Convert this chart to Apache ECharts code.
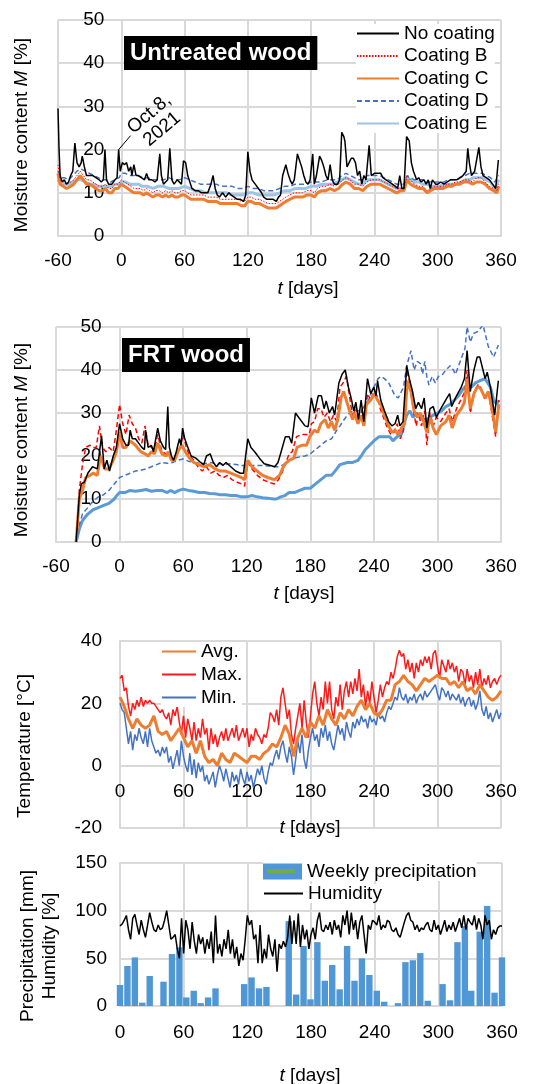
<!DOCTYPE html>
<html><head><meta charset="utf-8">
<script src="https://cdn.jsdelivr.net/npm/echarts@6/dist/echarts.min.js"></script>
<style>html,body{margin:0;padding:0;background:#fff}#c{width:550px;height:1084px}</style>
</head><body><div id="c"></div>
<script>
// ---------- DATA ----------
// Panel 1: untreated wood, moisture content [%] : [day, value]
const p1NoCoat = [[-60,29.5],[-59,20],[-58,14],[-56,12.5],[-54,13],[-52,12],[-50,12.5],[-48,14],[-46,15],[-44,21.5],[-42,17],[-40,16],[-38,17],[-37,18.5],[-35,16],[-33,14],[-30,14],[-27,14],[-24,13.5],[-21,13],[-19,12.5],[-17,13],[-15.5,20],[-14,13],[-12,12],[-9,12],[-6,13],[-4,13.5],[-2.5,20],[-1,15],[1,17],[3,16.5],[5,17],[7,15],[9,16],[10,14],[12,16.5],[14,14],[16,14],[19,13.5],[22,13],[24,14.5],[26,13],[29,13],[32,12.5],[34,13],[36.5,19],[38,14],[40,12],[42,12.5],[44,13],[46,20.3],[48,13],[50,12],[53,13],[55,12.5],[57,12],[59,17.4],[61,17],[63,14],[65,12.5],[67,11],[70,10.5],[73,10.5],[76,10],[79,10],[82,10],[85,12],[87,14],[89,11],[91,9.5],[93,9],[96,10],[99,9],[102,10],[104,9.5],[107,9],[110,8.5],[113,8.5],[116,8],[118,9.5],[120,19.5],[122,15],[124,13],[127,12],[130,11],[133,10],[135,9],[138,8.5],[141,8.5],[144,8.5],[147,8],[149,9],[151,9.5],[153,14],[156,16.5],[158,14.5],[160,13],[162,12],[164,13],[167,19],[169,17.5],[171,16],[173,14],[175,12.5],[177,12],[179,13],[181.5,19],[183,12],[185,14],[188,18.5],[190,17.5],[192,16],[194,14],[196,13],[198,16.5],[200,13],[202,12],[205,12],[207,13],[209,24],[211,23],[212,22],[214,16],[216,17],[218,18],[220,18],[222,17],[224,14],[226,15],[228,12],[230,14],[232,13],[235,21],[237,14],[240,14.5],[243,14.5],[246,14.5],[248,13.5],[251,13],[254,12.5],[257,12],[260,11.5],[262,11],[264,14],[266,11],[268,11],[270.5,23],[273,22],[275,17],[277,15],[280,13],[282,13.5],[284,12.5],[287,13],[289,12],[291,13],[293,11],[295,13],[298,12],[300,12],[303,12.5],[306,12],[309,12.5],[312,13],[315,13],[318,13],[321,13.5],[324,14],[327,15],[328.5,20.3],[330,17],[332,14],[335,15],[339,20.5],[341,16],[343,14],[346,13.5],[349,13],[352,12],[355,11],[357.5,17.6]];
const p1CoatB = [[-60,16.5],[-58,13],[-55,12.5],[-52,12],[-48,12.5],[-45,13],[-42,14],[-39,15],[-36,14],[-33,13],[-30,13],[-27,12.5],[-24,12],[-21,11.5],[-18,11.5],[-15,12],[-12,11],[-9,11],[-6,12],[-3,12],[0,13],[3,12.5],[6,12],[9,11.5],[12,11],[15,11],[18,11],[21,10.5],[24,11],[27,10.5],[30,10],[33,10.5],[36,10.5],[39,10],[42,10.5],[45,10],[48,10.5],[51,10],[54,10],[57,10.5],[60,10.5],[63,10],[66,9.5],[70,9.5],[74,9.5],[78,9.5],[82,9],[86,9],[90,9],[94,8.5],[98,8.5],[102,8.5],[106,8.5],[110,8.5],[114,8],[117,8],[120,9],[123,9],[127,8.5],[131,8.5],[135,8],[139,7.5],[143,7.5],[147,7.5],[150,8],[153,8.5],[156,9],[160,9.5],[164,10],[168,10],[172,10],[176,10.5],[180,10.5],[183,10],[186,11],[190,11.5],[194,11.5],[198,12],[202,11.5],[206,12],[210,13],[213,13.5],[217,13],[221,12],[225,12],[229,11.5],[233,12.5],[237,13],[241,13],[245,13],[249,12.5],[253,12],[257,11.5],[261,11],[265,11],[268,11],[271,14],[274,13],[278,12],[282,11.5],[286,11.5],[290,10.5],[293,11],[297,11.5],[301,11.5],[305,11.5],[309,12],[313,12],[317,12.5],[321,12.5],[325,13],[329,13],[333,12.5],[337,13.5],[341,13.5],[345,12.5],[349,11.5],[353,11],[356,10.5],[358,12]];
const p1CoatC = [[-60,14.5],[-58,12],[-55,11.5],[-52,11],[-48,11.5],[-45,12],[-42,13],[-39,14],[-36,13],[-33,12],[-30,12],[-27,11.5],[-24,11],[-21,10.5],[-18,10.5],[-15,11],[-12,10],[-9,10],[-6,11],[-3,11],[0,12],[3,11.5],[6,11],[9,10.5],[12,10],[15,10],[18,10],[21,9.5],[24,10],[27,9.5],[30,9],[33,9.5],[36,9.5],[39,9],[42,9.5],[45,9],[48,9.5],[51,9],[54,9],[57,9.5],[60,9.5],[63,9],[66,8.5],[70,8.5],[74,8.5],[78,8.5],[82,8],[86,8],[90,8],[94,7.5],[98,7.5],[102,7.5],[106,7.5],[110,7.5],[114,7],[117,7],[120,8],[123,8],[127,7.5],[131,7.5],[135,7],[139,6.5],[143,6.5],[147,6.5],[150,7],[153,7.5],[156,8],[160,8.5],[164,9],[168,9],[172,9],[176,9.5],[180,9.5],[183,9],[186,10],[190,10.5],[194,10.5],[198,11],[202,10.5],[206,11],[210,12],[213,12.5],[217,12],[221,11],[225,11],[229,10.5],[233,11.5],[237,12],[241,12],[245,12],[249,11.5],[253,11],[257,10.5],[261,10],[265,10.5],[268,10.5],[271,13],[274,12],[278,11.5],[282,11],[286,11],[290,10],[293,10.5],[297,11],[301,11],[305,11],[309,11.5],[313,11.5],[317,12],[321,12],[325,12.5],[329,12.5],[333,12],[337,12.5],[341,12.5],[345,12],[349,11],[353,10.5],[356,10],[358,11.5]];
const p1CoatD = [[-60,15],[-57,13.5],[-54,13.5],[-50,13],[-46,14],[-42,15],[-38,15.5],[-34,15],[-30,14.5],[-26,14],[-22,13.5],[-18,13],[-14,13],[-10,12.5],[-6,13],[-2,13.5],[0,14.5],[4,14.5],[8,14],[12,14],[16,14],[20,13.5],[25,13.5],[30,13],[35,13],[40,13],[45,13.5],[50,13],[55,13],[60,13.5],[65,13],[70,12.5],[75,12],[80,12],[85,12],[90,12],[95,11.5],[100,11.5],[105,11.5],[110,11],[115,11],[120,11.5],[125,11],[130,11],[135,10.5],[140,10.5],[145,10.5],[150,11],[155,11.5],[160,11.5],[165,12],[170,12],[175,12],[180,12.5],[185,12.5],[190,12.5],[195,13],[200,13],[205,13],[209,14],[213,14.5],[217,14],[221,13.5],[225,13],[229,13],[233,14],[237,14],[241,14],[245,14],[249,13.5],[253,13],[257,12.5],[261,12],[265,12],[268,12],[271,14],[274,13.5],[278,13],[282,13],[286,13],[290,12.5],[294,12.5],[298,12.5],[302,12.5],[306,12.5],[310,13],[314,13],[318,13],[322,13.5],[326,14],[330,14.5],[334,14.5],[338,14.5],[342,14.5],[346,14],[350,13.5],[354,12.5],[358,14]];
const p1CoatE = [[-60,13],[-57,12],[-54,12],[-50,12],[-46,12.5],[-42,13],[-38,13],[-34,12.5],[-30,12],[-26,12],[-22,11.5],[-18,11.5],[-14,11.5],[-10,11.5],[-6,12],[-2,12],[0,12.5],[4,12.5],[8,12],[12,12],[16,12],[20,11.5],[25,11.5],[30,11],[35,11.5],[40,11.5],[45,11],[50,11],[55,11],[60,11.5],[65,11],[70,10.5],[75,10.5],[80,10],[85,10],[90,10],[95,10],[100,10],[105,9.5],[110,9.5],[115,9.5],[120,10],[125,10],[130,9.5],[135,9.5],[140,9.5],[145,9.5],[150,10],[155,10.5],[160,10.5],[165,11],[170,11],[175,11],[180,11.5],[185,11.5],[190,12],[195,12],[200,12],[205,12.5],[209,13],[213,13.5],[217,13],[221,12.5],[225,12],[229,12],[233,13],[237,13],[241,13],[245,13],[249,12.5],[253,12],[257,11.5],[261,11],[265,11],[268,11],[271,13.5],[274,13],[278,12.5],[282,12.5],[286,12],[290,12],[294,11.5],[298,11.5],[302,11.5],[306,12],[310,12],[314,12],[318,12],[322,12.5],[326,13],[330,13],[334,13.5],[338,13.5],[342,13.5],[346,13],[350,12.5],[354,11],[358,13]];

// Panel 2: FRT wood
const p2NoCoat = [[-41,0],[-38,11],[-36,13.5],[-33,14],[-30,16],[-25.5,17.5],[-21,17],[-17,24.7],[-14.5,17],[-12,19],[-9.5,16.5],[-6,20],[-3,22],[0,27.5],[3,24],[6,22.5],[8.5,22.5],[10,26],[12,24],[15,24],[18,23],[21,22],[23.5,21.5],[24.5,26],[27,22],[30,22.5],[32,21],[36,26.5],[38.5,23.5],[41.5,22],[43.5,21.5],[45.5,31.5],[47,22],[49,20],[51,19],[53.5,21],[56.5,24],[58,22.5],[59.5,26.5],[61.5,24],[64.5,22],[67.5,20],[72,19.5],[76.5,18.5],[79.5,18],[82,20],[85.5,20.5],[88.5,18.5],[91.5,17.5],[94.5,18.5],[97.5,17.8],[100.5,18.5],[105,17.5],[109.5,16.5],[114,16],[117,16],[121,24],[124,22],[127.5,21],[132,19.5],[136.5,18.2],[142.5,17.8],[146.5,17.5],[149.5,18.5],[152.5,21],[156.5,24.5],[160,24.5],[162.5,23],[166,30],[170.5,28.5],[175,27],[178,26.8],[181,33.5],[184,30],[187.5,34],[190.5,34],[193,31],[195,32.8],[198,30],[201,31.5],[203,29.5],[207,37],[210,39],[213,40],[216,36],[219,33],[221,30.5],[223,32.5],[225.5,28.5],[228,33],[230.5,28],[234,38],[237,34.5],[240,36],[242,34],[243.5,37.5],[246.5,33],[250,30.5],[254,28],[257,27],[260,27.5],[262.5,29.5],[264.5,27],[267.5,28],[271,41],[273.5,38],[276.5,35],[279.5,31],[282,32.5],[285,31],[287.5,33.5],[290,26.5],[293,31],[296,31.5],[299,29],[302,30.5],[305.5,32],[309,33.5],[311.5,34.5],[313.5,31.5],[318,34],[322.5,36],[325.5,38],[328,44.5],[331,35],[334.5,40],[337.5,43],[340,43],[343,40],[345,38],[347,39.5],[350,36],[354,29.5],[357.5,37.5]];
const p2CoatB = [[-41,0],[-38,12],[-35,18],[-32,22],[-28,22.5],[-25,22],[-22,22],[-19,27],[-16,22],[-13,21],[-10,22],[-6,21],[-3,26],[0,32],[3,27.5],[6,25],[9,29.5],[12,27.5],[15,26.5],[18,24],[21,23],[24,27],[27,22.5],[30,22],[33,21.5],[36,25],[40,21],[44,20.5],[47,20],[50,19],[54,20.5],[57,22],[60,25],[63,22],[66,20],[70,19],[74,17.5],[78,16.5],[82,17.5],[86,16],[90,16.5],[94,15.5],[98,15],[102,15.5],[106,14.5],[110,14],[115,13.5],[118,13],[121,18.5],[125,17],[130,15.5],[135,14.5],[140,14],[146,13.5],[150,14.5],[154,16.5],[157,18.5],[160,20.5],[163,21],[167,24.5],[172,25],[176,25],[179,25],[181,27.5],[184,28],[187,31],[190,31],[193,29],[196,30],[199,28],[202,29.5],[205,28],[208,36],[211,37],[214,38.5],[217,34],[220,29],[223,31.5],[226,28],[229,31],[231,27],[234,34.5],[237,33],[240,35],[243,34],[246,31],[249,29],[252,27],[256,25],[259,25.5],[262,27.5],[265,24],[268,26],[271,40],[274,37],[277,31],[280,27],[282,30],[285,27],[288,30.5],[290,22.5],[293,30],[296,27],[299,29],[303,28],[308,30],[311,31],[314,28],[318,31],[322,33],[326,35],[328,40],[331,30],[335,35],[338,36.5],[340,36.5],[345,33],[348,35],[352,29],[355,24.5],[358,33]];
const p2CoatC = [[-41,0],[-38,10],[-35,12],[-32,15],[-28,15.5],[-25,16],[-21,15.5],[-18,20],[-14,17],[-10,17],[-6,19],[-3,21],[0,25.5],[3,22],[6,22],[10,23.5],[15,22.5],[20,21],[24,20.5],[27,20],[30,21],[33,20.5],[36,23],[40,20.5],[44,20],[46,21],[49,19],[52,19],[56,21.5],[59,22.5],[62,21],[66,19.5],[70,18.5],[75,18],[80,17.5],[85,18],[90,17],[95,16.5],[100,16.5],[105,16],[110,15.5],[115,15],[118,14.5],[121,19],[125,17.5],[130,16.5],[135,15.5],[140,15],[146,14.5],[151,15.5],[155.5,18],[160,19],[164.5,19.5],[167.5,22],[172,22.5],[176.5,22.5],[179.5,24.5],[184,26],[187,25.5],[190,27.5],[194,28.5],[197,26.5],[200,28],[203,26],[206,28.5],[209,33.5],[211.5,35],[214,33],[217,30.5],[220,28.5],[222,30],[225,27.5],[228,29.5],[230.5,27],[233,32],[237,33],[240.5,34.5],[243.5,33],[246.5,32],[250,29.5],[254,27],[257,25.5],[260,26],[263,25],[266,26.5],[269,27.5],[271.5,37.5],[275,35],[278,30.5],[281,29],[284,30],[287,28],[290,25.5],[293,29],[296,26.5],[299,25],[303,27],[308,28],[311,29.5],[314,26.5],[318,29.5],[322.5,31],[325.5,32.5],[328,38],[331,31],[334.5,34.5],[337.5,36],[340,36],[345,33.5],[348,35],[352,30.5],[355,25.5],[358,32]];
const p2CoatD = [[-41,0],[-38,4],[-35,6.5],[-30,8],[-25,9.5],[-20,10.5],[-15,11],[-10,12],[-5,13.5],[0,15],[5,15.5],[10,16],[15,16.5],[20,16.7],[25,17],[30,17.5],[35,18],[40,18.5],[45,18.3],[50,18.5],[55,19],[60,19.3],[65,18.8],[70,18.5],[75,18.3],[80,18.2],[85,18.5],[90,18.3],[95,18.2],[100,18],[105,18.2],[110,18],[115,17.8],[120,17.8],[125,17.8],[130,17.8],[135,17.8],[140,17.7],[145,17.5],[150,17.5],[155,18],[160,19],[165,19.5],[170,19.8],[175,20],[180,20.5],[185,21.5],[190,22.5],[195,23.5],[200,24],[205,26],[208,27],[212,28.5],[215,29.5],[220,30.5],[225,30.5],[228,30.5],[232,32],[235,33],[238,35],[241,36.5],[244,38],[247,38.5],[250,38],[254,37],[257,35.5],[260,34],[263,33.5],[266,35],[268,36],[271,41],[275,44.5],[278,40],[281,42],[284,41.5],[286,39],[288,42],[290,38.5],[292,36.5],[295,38.5],[298,37],[301,38.5],[305,39],[308,40],[312,41],[315,40],[317,39],[320,41],[323,43],[326,45],[328,50],[331,46.5],[334,48.5],[338.5,49],[343,50.5],[348,45.5],[353,43],[357.5,45.8]];
const p2CoatE = [[-41,0],[-38,3],[-35,5],[-30,6.5],[-25,7.5],[-20,8],[-15,8.5],[-10,9],[-5,10],[-2,11],[0,11.5],[5,11.5],[10,12],[15,11.8],[20,12],[25,12.2],[30,11.8],[35,12],[40,12],[45,11.5],[48,12],[52,11.5],[56,12],[60,12.3],[65,12],[70,11.8],[75,11.5],[80,11.5],[85,11.3],[90,11.2],[95,11],[100,11],[105,10.8],[110,10.8],[115,10.5],[120,10.5],[125,10.8],[130,10.5],[135,10.3],[140,10.2],[145,10],[148,10],[152,10.5],[156,10.8],[160,11.5],[165,11.5],[170,12],[175,12.5],[180,12.5],[185,13.5],[190,14.5],[195,15.5],[200,15.5],[205,17],[208,18],[215,18.5],[220,18.5],[225,19],[228,20],[232,21.5],[236,22.5],[240,23.5],[245,24.5],[250,24.5],[255,24.5],[258,23.5],[262,24.5],[266,25],[268,27],[271,29.5],[274,30.5],[277,29],[280,30],[283,29.5],[286,28.5],[290,28.5],[293,29],[296,29.5],[300,30],[304,30.5],[308,31.5],[312,32],[316,33],[320,34],[324,35.5],[328,36.5],[332,36],[336,37],[340,37.5],[345,38],[350,36],[353,33],[356,32],[358,33]];

// Panel 3: temperature [°C]; max/min every 2 days, avg every 4 days (days 0..360)
const tempDays2 = Array.from({length: 181}, (_, i) => i * 2);
const tempDays4 = Array.from({length: 91}, (_, i) => i * 4);
const tempMax = [28,29,24,25,19,16,20,18,21,19, 22,19,21,20,21,20,20,19,18,17, 18,16,15,17,13,18,16,19,14,10, 16,9,15,12,8,14,8,12,9,15, 10,12,5,12,7,10,6,9,11,8, 12,8,10,12,9,13,8,10,12,9, 12,6,10,8,12,10,9,7,10,9, 12,17,16,14,18,13,22,25,20,15, 18,10,7,12,16,20,12,21,14,9, 16,23,27,20,16,22,18,27,20,27, 18,15,22,19,26,18,24,27,22,27, 23,28,24,31,22,26,19,24,20,27, 22,17,21,26,22,25,27,26,30,28, 31,35,37,35,36,31,34,30,33,28, 33,30,34,32,35,33,35,31,36,37, 32,28,34,32,30,34,31,33,30,32, 27,31,30,26,31,27,29,25,30,26, 31,25,28,26,29,25,27,28,26,28, 29];
const tempMin = [20,18,17,12,7,11,5,10,8,12, 9,7,11,6,12,8,6,4,5,3, 6,4,6,1,3,-1,2,5,0,8, 3,0,-2,4,-3,2,-4,1,-2,0, -5,-3,-6,-4,-2,-7,-3,0,-2,-5, -1,-4,-7,-2,-5,-3,-6,-1,-4,-6, -2,-5,-3,-7,-4,-1,-3,0,-4,-6, -2,1,0,3,5,2,6,8,4,1, 6,3,-3,2,8,4,10,2,-1,5, 9,12,8,10,6,12,9,13,8,11, 7,5,9,13,10,12,8,14,11,9, 14,12,15,13,16,14,15,12,16,14, 15,13,17,15,16,14,17,19,18,20, 22,21,25,22,21,23,20,22,21,23, 20,22,23,21,24,22,23,24,25,26, 23,21,25,24,22,24,21,23,22,21, 23,20,22,19,21,22,19,21,18,20, 24,18,16,19,15,17,14,16,18,15, 17];
const tempAvg = [22,19,15,12,15,13,12,13,16,11, 10,11,8,10,12,9,6,8,4,8, 3,1,2,0,4,2,1,4,3,2, 1,3,3,2,4,5,7,6,9,13, 10,3,9,12,9,14,12,16,13,18, 15,13,17,15,18,16,19,21,18,20, 17,16,18,21,21,26,27,29,27,26, 24,26,28,27,28,29,28,28,26,27, 25,27,24,25,23,26,24,22,21,22, 24];

// Panel 4: weekly precipitation [mm] and humidity [%] (every 2 days)
const weekDays = [0,7,14,21,28,41,49,56,62.5,69.5,76,83,90,117,124,131,138,159,166,173,179.5,186,193,200,207,214,221,228,235,242,249,262,269,276,283,290,304,311,318,325,331,339,346,353,360];
const weekPrecip = [22,42,51,3.5,31.5,25.5,54.5,61.5,9,16,3,9,18.5,23,30,18.5,20,89,12,63,7,67,26.5,43,17.5,63,26.5,50,32.5,16,4.5,3,46,48,55.5,5.5,23,6,67,84,16,78,105,14,51];
const humDays = Array.from({length: 181}, (_, i) => i * 2);
const humidity = [84,86,90,95,80,70,92,96,85,75, 90,80,72,85,98,88,80,78,85,80, 82,90,100,85,70,72,75,60,50,92, 55,90,80,60,88,68,55,75,65,72, 55,70,60,78,45,95,55,65,52,70, 60,80,55,70,50,62,42,55,48,70, 95,85,90,70,75,45,85,45,60,50, 75,60,52,70,36,65,60,68,62,72, 95,65,90,65,97,62,85,70,80,60, 75,82,70,90,98,80,78,85,80,88, 75,90,80,85,72,95,85,100,75,98, 80,90,70,88,95,75,55,85,80,90, 88,85,95,80,85,82,90,88,80,78, 82,75,72,80,88,95,98,90,88,80, 85,78,82,80,85,88,80,78,90,80, 85,75,82,90,78,85,80,88,78,85, 92,82,95,80,92,88,85,95,80,92, 85,70,95,85,90,70,80,75,82,84, 84];

// ---------- CHART ----------
const FONT = '"Liberation Sans", Arial, Helvetica, sans-serif';
const GRID = '#d9d9d9';
const zip = (xs, ys) => xs.map((x, i) => [x, ys[i]]);
const grids = [
  {left: 58, top: 20, width: 443, height: 216},
  {left: 56, top: 327, width: 445, height: 215},
  {left: 120, top: 641, width: 381, height: 187},
  {left: 120, top: 863, width: 382, height: 143}
];
// shift of an axis so that it sits on the other axis's zero
const zeroShiftX = (g, min, max) => -(g.width * (0 - min) / (max - min));          // y axis on x = 0
const zeroShiftY = (g, min, max) => -(g.height * (0 - min) / (max - min));         // x axis on y = 0

function xAx(gi, min, max, margin, offset) {
  return {type: 'value', gridIndex: gi, min: min, max: max, interval: 60, offset: offset || 0,
    axisLine: {onZero: false, lineStyle: {color: GRID, width: 2}},
    axisTick: {show: false},
    axisLabel: {fontFamily: FONT, fontSize: 19, color: '#000', margin: margin},
    splitLine: {show: true, lineStyle: {color: GRID, width: 2}}};
}
function yAx(gi, min, max, interval, margin, offset) {
  return {type: 'value', gridIndex: gi, min: min, max: max, interval: interval, offset: offset || 0,
    axisLine: {show: true, onZero: false, lineStyle: {color: GRID, width: 2}},
    axisTick: {show: false},
    axisLabel: {fontFamily: FONT, fontSize: 19, color: '#000', margin: margin},
    splitLine: {show: true, lineStyle: {color: GRID, width: 2}}};
}
function line(name, gi, data, color, width, type, z) {
  return {type: 'line', name: name, xAxisIndex: gi, yAxisIndex: gi, data: data,
    symbol: 'none', smooth: false, clip: true, z: z || 2,
    lineStyle: {color: color, width: width, type: type || 'solid'},
    itemStyle: {color: color}, emphasis: {disabled: true}};
}

const chart = echarts.init(document.getElementById('c'), null, {renderer: 'canvas'});
const legendText = {fontFamily: FONT, fontSize: 19, color: '#000'};
const titleStyle = {color: '#fff', fontFamily: FONT, fontSize: 24, fontWeight: 'bold', lineHeight: 25};
const lineLegend = (o) => Object.assign({orient: 'vertical', padding: 0, backgroundColor: '#fff',
  textStyle: legendText, selectedMode: false, itemStyle: {opacity: 0}}, o);

chart.setOption({
  animation: false,
  backgroundColor: '#fff',
  title: [
    {text: 'Untreated wood', left: 124, top: 36, backgroundColor: '#000', padding: [5, 6, 4, 6], textStyle: titleStyle},
    {text: 'FRT wood', left: 122, top: 338, backgroundColor: '#000', padding: [5, 6, 4, 6], textStyle: titleStyle}
  ],
  grid: grids,
  xAxis: [xAx(0, -60, 360, 15), xAx(1, -60, 360, 15),
          xAx(2, 0, 360, 17, zeroShiftY(grids[2], -20, 40)), xAx(3, 0, 360, 17)],
  yAxis: [yAx(0, 0, 50, 10, 17, zeroShiftX(grids[0], -60, 360)),
          yAx(1, 0, 50, 10, 18, zeroShiftX(grids[1], -60, 360)),
          yAx(2, -20, 40, 20, 18), yAx(3, 0, 150, 50, 13)],
  legend: [
    lineLegend({left: 356, top: 24, itemWidth: 42, itemHeight: 14, itemGap: 3.5,
      data: ['No coating', 'Coating B', 'Coating C', 'Coating D', 'Coating E']}),
    lineLegend({left: 161, top: 642, itemWidth: 34, itemHeight: 14, itemGap: 4,
      data: ['Avg.', 'Max.', 'Min.']}),
    {orient: 'vertical', left: 263, top: 862, itemWidth: 39, itemHeight: 16, padding: 0,
      backgroundColor: '#fff', textStyle: legendText, selectedMode: false,
      data: [{name: 'Weekly precipitation', icon: 'rect'}]},
    lineLegend({left: 263, top: 884, itemWidth: 39, itemHeight: 14, data: ['Humidity']})
  ],
  series: [
    line('Coating E', 0, p1CoatE, '#9dc3e6', 3),
    line('Coating D', 0, p1CoatD, '#4472c4', 1.5, [5, 3]),
    line('Coating C', 0, p1CoatC, '#ed7d31', 3),
    line('Coating B', 0, p1CoatB, '#ff0000', 1, [1.5, 1.5]),
    line('No coating', 0, p1NoCoat, '#000000', 1.5),
    line('Coating E', 1, p2CoatE, '#5b9bd5', 3),
    line('Coating D', 1, p2CoatD, '#4472c4', 1.5, [5, 3]),
    line('Coating B', 1, p2CoatB, '#ff0000', 1.5, [5, 3]),
    line('Coating C', 1, p2CoatC, '#ed7d31', 3),
    line('No coating', 1, p2NoCoat, '#000000', 1.5),
    line('Min.', 2, zip(tempDays2, tempMin), '#4472c4', 1.5),
    line('Max.', 2, zip(tempDays2, tempMax), '#ff1a1a', 1.5),
    line('Avg.', 2, zip(tempDays4, tempAvg), '#ed7d31', 3, 'solid', 3),
    {type: 'bar', name: 'Weekly precipitation', xAxisIndex: 3, yAxisIndex: 3, data: zip(weekDays, weekPrecip),
      barWidth: 6.4, clip: true, itemStyle: {color: '#5097d5'}, emphasis: {disabled: true}},
    line('Humidity', 3, zip(humDays, humidity), '#000000', 1.5, 'solid', 3)
  ]
});

// ---------- axis names and annotation ----------
const rich = {n: {fontFamily: FONT, fontSize: 19, fill: '#000'}, i: {fontFamily: FONT, fontSize: 19, fontStyle: 'italic', fill: '#000'}};
function vText(x, y, parts) {
  return {type: 'text', x: x, y: y, rotation: Math.PI / 2, z: 50,
    style: {text: parts, fill: '#000', font: '19px ' + FONT, align: 'center', verticalAlign: 'middle', rich: rich}};
}
function hText(x, y, parts) {
  return {type: 'text', x: x, y: y, z: 50,
    style: {text: parts, fill: '#000', font: '19px ' + FONT, align: 'center', verticalAlign: 'middle', rich: rich}};
}
const anchor = chart.convertToPixel({gridIndex: 0}, [-2.5, 20]);
chart.setOption({
  graphic: [
    vText(22, 135, '{n|Moisture content }{i|M}{n| [%]}'),
    hText(308, 289, '{i|t}{n| [days]}'),
    vText(22, 440, '{n|Moisture content }{i|M}{n| [%]}'),
    hText(304, 594, '{i|t}{n| [days]}'),
    vText(25, 746, '{n|Temperature [°C]}'),
    hText(310, 828, '{i|t}{n| [days]}'),
    vText(28, 946, '{n|Precipitation [mm]}'),
    vText(50, 946, '{n|Humidity [%]}'),
    hText(310, 1076, '{i|t}{n| [days]}'),
    {type: 'rect', z: 60, shape: {x: 267, y: 869, width: 28, height: 4}, style: {fill: '#70ad47'}},
    {type: 'line', z: 40, shape: {x1: anchor[0], y1: anchor[1], x2: anchor[0] + 12, y2: anchor[1] - 14},
      style: {stroke: '#000', lineWidth: 1}},
    {type: 'text', z: 40, x: anchor[0] + 37, y: anchor[1] - 28, rotation: 40 * Math.PI / 180,
      style: {text: 'Oct.8,\n2021', fill: '#000', font: '19px ' + FONT, align: 'center', verticalAlign: 'middle', lineHeight: 20}}
  ]
});
</script></body></html>
